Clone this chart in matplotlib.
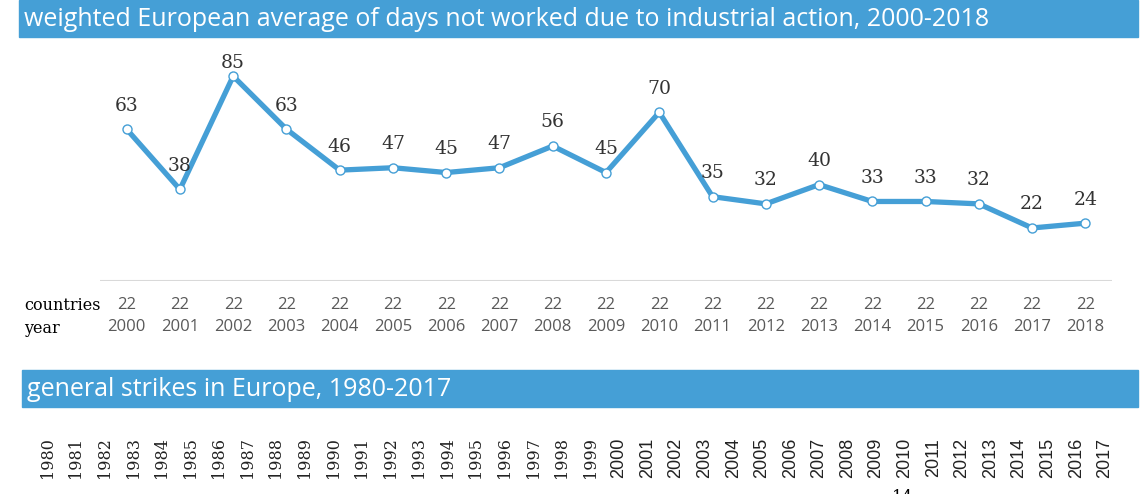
import numpy as np
import matplotlib.pyplot as plt
from matplotlib.patches import Rectangle
from matplotlib.transforms import blended_transform_factory

# data
years = list(range(2000, 2019))
days_lost = [63, 38, 85, 63, 46, 47, 45, 47, 56, 45, 70, 35, 32, 40, 33, 33, 32, 22, 24]
countries = [22] * len(years)
strike_years = list(range(1980, 2018))

title_top = 'weighted European average of days not worked due to industrial action, 2000-2018'
title_bottom = 'general strikes in Europe, 1980-2017'

blue = '#459fd6'
W, H = 1146, 494

fig = plt.figure(figsize=(W / 100, H / 100), dpi=100)


def px(x, y):
    # pixel (from top-left) -> figure fraction
    return x / W, 1 - y / H


# title bars
for (x0, y0, x1, y1), txt in [((19, 0, 1138, 37), title_top),
                              ((22, 370, 1138, 407), title_bottom)]:
    fig.patches.append(Rectangle((x0 / W, 1 - y1 / H), (x1 - x0) / W, (y1 - y0) / H,
                                 transform=fig.transFigure, color=blue, zorder=0))
    fig.text(*px(x0 + 5, (y0 + y1) / 2 + 1), txt, color='white', fontsize=18,
             family='Open Sans', va='center', ha='left')

# line chart
ax = fig.add_axes([100 / W, 1 - 281 / H, 1012 / W, 241 / H])
ax.plot(years, days_lost, color=blue, lw=3.8, marker='o', ms=6.5,
        mfc='white', mec=blue, mew=1, zorder=3, solid_joinstyle='miter')
ax.set_xlim(1999.5, 2018.5)
ax.set_ylim(0, 100)
ax.axhline(0, color='#d9d9d9', lw=1.5, zorder=1)
for s in ax.spines.values():
    s.set_visible(False)
ax.set_xticks([])
ax.set_yticks([])

for x, v in zip(years, days_lost):
    ax.text(x, min(v + 9.8, 90.5), str(v), ha='center', va='center',
            family='DejaVu Serif', fontsize=13.5, color='#333333', zorder=4)

# table under the chart
trans = blended_transform_factory(ax.transData, fig.transFigure)
fig.text(*px(24, 306), 'countries', family='DejaVu Serif', fontsize=11.5,
         va='center', ha='left', color='black')
fig.text(*px(24, 328), 'year', family='DejaVu Serif', fontsize=11.5,
         va='center', ha='left', color='black')
for x, c in zip(years, countries):
    ax.text(x, 1 - 305 / H, str(c), transform=trans, ha='center', va='center',
            family='Open Sans', fontsize=12, color='#595959')
    ax.text(x, 1 - 327 / H, str(x), transform=trans, ha='center', va='center',
            family='Open Sans', fontsize=12, color='#595959')

# general strikes year axis
ax2 = fig.add_axes([33 / W, 1 - 480 / H, (1119 - 33) / W, 45 / H])
ax2.set_xlim(1979.5, 2017.5)
ax2.set_ylim(0, 1)
ax2.axis('off')
for y in strike_years:
    if y < 2000:
        ax2.text(y, 0.5, str(y), rotation=90, ha='center', va='center',
                 family='DejaVu Serif', fontsize=11.5, color='#222222')
    else:
        ax2.text(y, 0.5, str(y), rotation=90, ha='center', va='center',
                 family='Liberation Sans', fontsize=13, color='#222222')

# page number, cut off at the bottom as in the source page
fig.text(*px(903, 489), '14', family='DejaVu Serif', fontsize=12,
         ha='center', va='top', color='black')

fig.savefig('out.png', dpi=100)
